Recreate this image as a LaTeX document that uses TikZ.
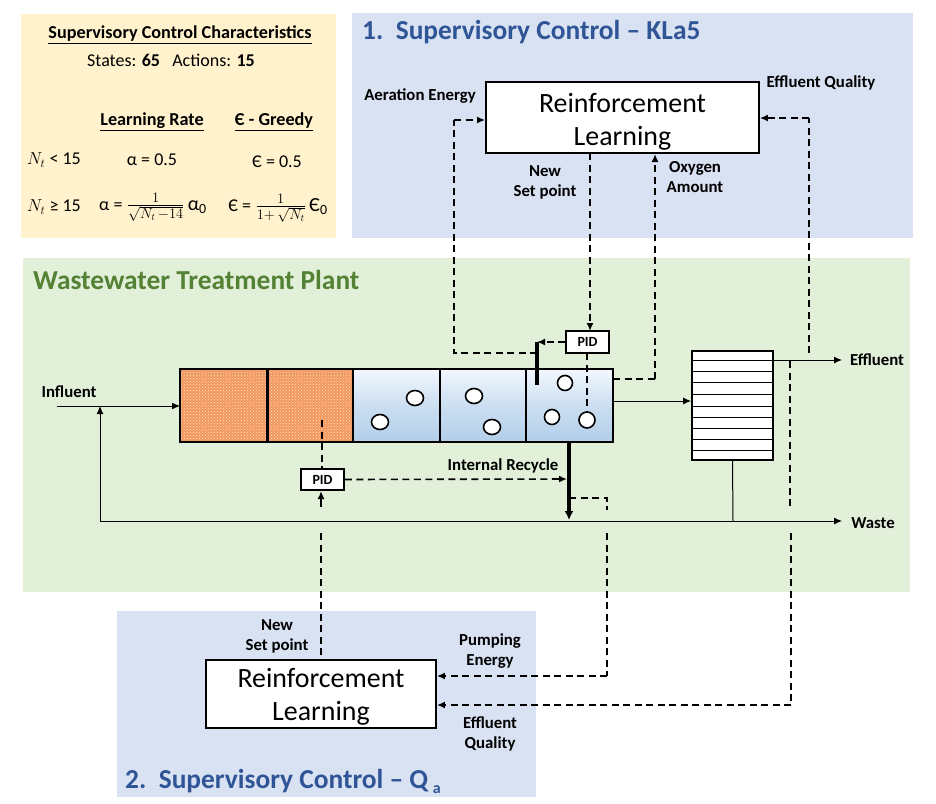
\documentclass[tikz,border=0pt]{standalone}
\usepackage{fontspec}
\usepackage{amsmath}
\setmainfont{Carlito}
\usetikzlibrary{arrows.meta,patterns,shapes.geometric}
\definecolor{panelY}{HTML}{FFF2CC}
\definecolor{panelB}{HTML}{D9E2F3}
\definecolor{panelG}{HTML}{E2EFD9}
\definecolor{titleB}{HTML}{2F5597}
\definecolor{titleG}{HTML}{548235}
\definecolor{anoxic}{HTML}{F2985C}
\definecolor{aerTop}{HTML}{F2F7FE}
\definecolor{aerBot}{HTML}{B2CEE9}
\tikzset{
  x=1pt,y=-1pt,
  lab/.style={font=\fontsize{16.8}{20}\selectfont\bfseries,align=center,inner sep=0pt,text=black},
  txt/.style={font=\fontsize{18}{21}\selectfont,align=center,inner sep=0pt,text=black},
  mth/.style={font=\fontsize{20}{24}\selectfont,align=center,inner sep=0pt,text=black},
  head/.style={font=\fontsize{18.2}{21}\selectfont\bfseries,inner sep=0pt,text=black},
  ptitle/.style={anchor=west,inner sep=0pt,font=\fontsize{27.4}{30}\selectfont\bfseries},
  rlbox/.style={draw,line width=1.8pt,fill=white,align=center,inner sep=0pt,font=\fontsize{27.9}{33}\selectfont},
  pidbox/.style={draw,line width=1.8pt,fill=white,inner sep=0pt,font=\fontsize{14}{15}\selectfont\bfseries},
  tipA/.style={-{Latex[length=8pt,width=7pt]}},
  flow/.style={line width=1pt},
  sig/.style={line width=1.6pt,dash pattern=on 7pt off 4.5pt},
  heavy/.style={line width=3.2pt},
  aer/.style={draw,line width=1.8pt,top color=aerTop,bottom color=aerBot,middle color=aerBot!60!aerTop},
  bubble/.style={draw,line width=1.6pt,fill=white,ellipse,minimum width=17pt,minimum height=15pt,inner sep=0pt},
}
\begin{document}
\begin{tikzpicture}
\useasboundingbox (0,0) rectangle (936,803);
\fill[white] (0,0) rectangle (936,803);
% panels
\fill[panelY] (21,14) rectangle (336,238);
\fill[panelB] (352,13) rectangle (913,238);
\fill[panelG] (23,258) rectangle (910,592);
\fill[panelB] (117,611) rectangle (536,797);
% panel titles
\node[ptitle,text=titleB] (t1) at (362,32) {1.\ \ Supervisory Control -- KLa5};
\node[ptitle,text=titleG] (t2) at (33,280) {Wastewater Treatment Plant};
\node[ptitle,text=titleB] (t3) at (125,781) {2.\ \ Supervisory Control -- Q\,\raisebox{-5pt}{\fontsize{16}{20}\selectfont a}};
% characteristics
\node[head] (c0) at (180,35) {\underline{Supervisory Control Characteristics}};
\node[txt] (c1) at (171,60) {States: \textbf{65}\ \ \ Actions: \textbf{15}};
\node[head] (c2) at (152,122) {\underline{Learning Rate}};
\node[head] (c3) at (274,122) {\underline{Є - Greedy}};
\node[txt,anchor=west] (c4) at (27,160) {$N_t$ < 15};
\node[txt] (c5) at (152,160) {α = 0.5};
\node[txt] (c6) at (277,162) {Є = 0.5};
\node[txt,anchor=west] (c7) at (27,207) {$N_t$ ≥ 15};
\node[mth] (c8) at (153,207) {{\fontsize{18}{21}\selectfont α =} $\frac{1}{\sqrt{N_t\,-14}}$\,α\textsubscript{0}};
\node[mth] (c9) at (278,208) {{\fontsize{18}{21}\selectfont Є =} $\frac{1}{1+\,\sqrt{N_t}}$\,Є\textsubscript{0}};
% RL boxes
\node[rlbox,minimum width=273pt,minimum height=71pt] (rl1) at (622.5,117.5) {\rule{0pt}{27pt}Reinforcement\\Learning};
\node[rlbox,minimum width=230pt,minimum height=68pt] (rl2) at (321,694) {\rule{0pt}{25pt}Reinforcement\\Learning};
% tanks
\fill[anoxic] (180,369) rectangle (353,442);
\fill[pattern=crosshatch dots,pattern color=white!70!anoxic] (180,369) rectangle (353,442);
\draw[line width=1.8pt] (180,369) rectangle (267,442);
\draw[line width=1.8pt] (267,369) rectangle (353,442);
\path[aer] (353,369) rectangle (440,442);
\path[aer] (440,369) rectangle (526,442);
\path[aer] (526,369) rectangle (613,442);
\draw[line width=3pt] (267,369) -- (267,442);
\node[bubble] (b1) at (415,398) {};
\node[bubble] (b2) at (380,422) {};
\node[bubble] (b3) at (474,396) {};
\node[bubble] (b4) at (492,427) {};
\node[bubble,minimum width=15pt,minimum height=15pt] (b5) at (565,383) {};
\node[bubble,minimum width=15pt,minimum height=15pt] (b6) at (552,417) {};
\node[bubble,minimum width=16pt,minimum height=16pt] (b7) at (587,420) {};
% clarifier
\node[draw,line width=1.8pt,fill=white,minimum width=81pt,minimum height=109pt,inner sep=0pt] (cl) at (732.5,405.5) {};
\foreach \yy in {360,371,382,394,406,417,428,439,450}
  \draw[line width=1pt] (692,\yy) -- (773,\yy);
% PIDs
\node[pidbox,minimum width=43pt,minimum height=22pt] (pid1) at (587.5,342) {PID};
\node[pidbox,minimum width=43pt,minimum height=21pt] (pid2) at (322.5,479.5) {PID};
% free ends
\coordinate (inf) at (57,406);
\coordinate (tankin) at (180,406);
\coordinate (rec0) at (100,521);
\coordinate (rec1) at (100,406);
\coordinate (wasteend) at (842,521);
\coordinate (wastej) at (733,521);
\coordinate (tankout) at (613,401);
\coordinate (effl0) at (773,360);
\coordinate (efflend) at (842,360);
\coordinate (ae0) at (537,353);
\coordinate (ae1) at (454,353);
\coordinate (ae2) at (454,120);
\coordinate (valve) at (537,342);
\coordinate (valve0) at (537,385);
\coordinate (ox0) at (613,379);
\coordinate (ox1) at (655,379);
\coordinate (eq0) at (809,353);
\coordinate (eq1) at (809,118);
\coordinate (ir0) at (569,442);
\coordinate (ir1) at (569,520);
\coordinate (ir2) at (567,479);
\coordinate (pu0) at (569,498);
\coordinate (pu1) at (607,498);
\coordinate (pu2) at (607,510);
\coordinate (pu3) at (607,533);
\coordinate (pu4) at (607,676);
\coordinate (eb0) at (790,361);
\coordinate (eb1) at (790,508);
\coordinate (eb2) at (791,533);
\coordinate (eb3) at (791,705);
\coordinate (pb0) at (322,420);
\coordinate (pb1) at (321,507);
\coordinate (pb2) at (321,533);
\coordinate (pb3) at (321,655);
% process lines
\draw[flow,tipA] (inf) -- (tankin);
\draw[flow,tipA] (rec0) -- (rec1);
\draw[flow,tipA] (rec0) -- (wasteend);
\draw[flow] (cl.south) -- (wastej);
\draw[flow,tipA] (tankout) -- (tankout -| cl.west);
\draw[flow,tipA] (effl0) -- (efflend);
% thick lines
\draw[heavy] (valve0) -- (valve);
\draw[heavy,-{Latex[length=9pt,width=9pt]}] (ir0) -- (ir1);
% signals
\draw[sig] (ae0) -- (ae1) -- (ae2);
\draw[sig,tipA] (ae2) -- (ae2 -| rl1.west);
\draw[sig,tipA] (pid1.west |- valve) -- (valve);
\draw[sig,tipA] (590,153) -- (590,331);
\draw[sig] (587,353) -- (b7.north);
\draw[sig] (ox0) -- (ox1);
\draw[sig,tipA] (ox1) -- (655,154);
\draw[sig] (eq0) -- (eq1);
\draw[sig,tipA] (eq1) -- (eq1 -| rl1.east);
\draw[sig] (pb0) -- (pid2.north -| pb0);
\draw[sig,tipA] (pid2.east) -- (ir2);
\draw[line width=1.6pt,tipA] (pb1) -- (321,491);
\draw[sig] (pb3) -- (pb2);
\draw[sig] (pu0) -- (pu1) -- (pu2);
\draw[sig] (pu3) -- (pu4);
\draw[sig,tipA] (pu4) -- (pu4 -| rl2.east);
\draw[sig] (eb0) -- (eb1);
\draw[sig] (eb2) -- (eb3);
\draw[sig,tipA] (eb3) -- (eb3 -| rl2.east);
% labels
\node[lab] (l1) at (420,96) {Aeration Energy};
\node[lab] (l2) at (821,83) {Effluent Quality};
\node[lab] (l3) at (545,182) {New\\Set point};
\node[lab] (l4) at (695,177) {Oxygen\\Amount};
\node[lab] (l5) at (69,392) {Influent};
\node[lab] (l6) at (503,466) {Internal Recycle};
\node[lab] (l7) at (877,360) {Effluent};
\node[lab] (l8) at (873,523) {Waste};
\node[lab] (l9) at (277,636) {New\\Set point};
\node[lab] (l10) at (490,651) {Pumping\\Energy};
\node[lab] (l11) at (490,734) {Effluent\\Quality};
\end{tikzpicture}
\end{document}
